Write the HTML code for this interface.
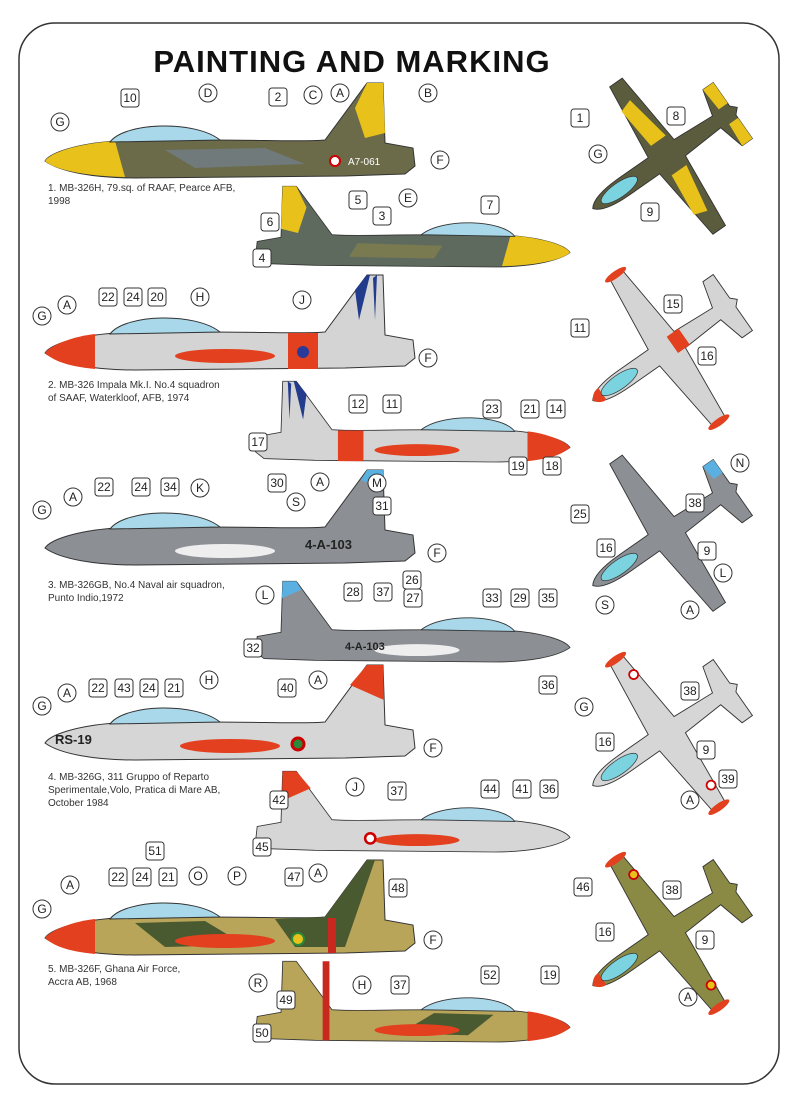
<!DOCTYPE html>
<html><head><meta charset="utf-8"><style>
body{margin:0;background:#fff;}
svg{display:block;font-family:"Liberation Sans",sans-serif;}
.c circle,.b rect{fill:#fff;stroke:#333;stroke-width:1;}
.c text,.b text{font-size:12px;text-anchor:middle;dominant-baseline:central;fill:#222;}
.cap{font-size:10px;fill:#333;}
</style></head><body>
<svg width="799" height="1100" viewBox="0 0 799 1100">
<defs>
<path id="side" d="M0,3 C5,-5 30,-14 70,-17 L160,-18 C220,-18 260,-16 280,-18 L322,-75 L338,-75 L340,-15 L368,-10 L370,8 L360,16 L300,18 L90,20 C50,20 15,14 0,3Z" stroke="#333" stroke-width="1"/>
<path id="can" d="M65,-16 C80,-36 150,-38 175,-18 Z" fill="#a8d8ea" stroke="#333" stroke-width="1"/>
<path id="nose" d="M0,3 C5,-5 30,-14 50,-16 L50,19 C20,16 8,10 0,3Z"/>
<path id="top" d="M-98,0 C-92,-8 -75,-11 -55,-11 L-15,-11 L-5,-100 L12,-100 L20,-11 L70,-8 L78,-38 L92,-38 L92,-6 L98,0 L92,6 L92,38 L78,38 L70,8 L20,11 L12,100 L-5,100 L-15,11 L-55,11 C-75,11 -92,8 -98,0Z" stroke="#333" stroke-width="1"/>
<g id="tcan"><ellipse cx="-62" cy="0" rx="24" ry="8" fill="#7cd3e0" stroke="#333" stroke-width=".8"/></g>
</defs>
<rect x="19" y="23" width="760" height="1061" rx="36" fill="#fff" stroke="#333" stroke-width="1.5"/>
<text x="352" y="72" font-size="31" font-weight="bold" text-anchor="middle" fill="#111" letter-spacing="1">PAINTING AND MARKING</text>

<!-- Row 1 -->
<g transform="translate(45,158)"><use href="#side" fill="#6b6b4a"/><path d="M0,3 C5,-5 30,-14 70,-17 L80,19 C40,18 10,12 0,3Z" fill="#e8c21a"/><path d="M310,-50 L322,-75 L338,-75 L340,-25 L320,-20Z" fill="#e8c21a"/><path d="M120,-8 L220,-10 L260,6 L150,10Z" fill="#707a7a"/><use href="#can"/><circle cx="290" cy="3" r="5" fill="#fff" stroke="#c00" stroke-width="2"/><text x="303" y="7" font-size="10" fill="#fff">A7-061</text></g>
<g transform="translate(570,250) scale(-0.85,0.85)"><use href="#side" fill="#5f6a5e"/><path d="M0,3 C5,-5 30,-14 70,-17 L80,19 C40,18 10,12 0,3Z" fill="#e8c21a"/><path d="M310,-50 L322,-75 L338,-75 L340,-25 L320,-20Z" fill="#e8c21a"/><use href="#can"/><path d="M150,-5 L250,-8 L260,8 L160,10Z" fill="#7a7a50"/></g>
<g transform="translate(665,158) rotate(-35) scale(0.9)"><use href="#top" fill="#5b5b3e"/><path d="M-10,-70 L5,-75 L15,-20 L-5,-20Z M-10,70 L5,75 L15,20 L-5,20Z" fill="#e8c21a"/><path d="M78,-38 L92,-38 L92,-10 L80,-10Z M78,38 L92,38 L92,10 L80,10Z" fill="#e8c21a"/><use href="#tcan"/></g>

<!-- Row 2 -->
<g transform="translate(45,350)"><use href="#side" fill="#d4d4d4"/><use href="#nose" fill="#e2401e"/><rect x="243" y="-17" width="30" height="36" fill="#e2401e"/><path d="M310,-60 L322,-75 L325,-75 L314,-30Z M328,-72 L332,-75 L330,-30Z" fill="#223b8c"/><use href="#can"/><ellipse cx="180" cy="6" rx="50" ry="7" fill="#e2401e"/><circle cx="258" cy="2" r="6" fill="#2a3a9a"/></g>
<g transform="translate(570,445) scale(-0.85,0.85)"><use href="#side" fill="#d4d4d4"/><use href="#nose" fill="#e2401e"/><rect x="243" y="-17" width="30" height="36" fill="#e2401e"/><path d="M310,-60 L322,-75 L325,-75 L314,-30Z M328,-72 L332,-75 L330,-30Z" fill="#223b8c"/><use href="#can"/><ellipse cx="180" cy="6" rx="50" ry="7" fill="#e2401e"/></g>
<g transform="translate(665,350) rotate(-35) scale(0.9)"><use href="#top" fill="#d4d4d4"/><rect x="10" y="-11" width="16" height="22" fill="#e2401e"/><path d="M-98,0 C-94,-6 -90,-8 -85,-8 L-85,8 C-90,8 -94,6 -98,0Z" fill="#e2401e"/><ellipse cx="3" cy="-100" rx="14" ry="4" fill="#e2401e"/><ellipse cx="3" cy="100" rx="14" ry="4" fill="#e2401e"/><use href="#tcan"/></g>

<!-- Row 3 -->
<g transform="translate(45,545)"><use href="#side" fill="#8c9095"/><path d="M316,-65 L322,-75 L338,-75 L339,-55Z" fill="#5ab0e0"/><use href="#can"/><ellipse cx="180" cy="6" rx="50" ry="7" fill="#eee"/><text x="260" y="4" font-size="13" font-weight="bold" fill="#222">4-A-103</text></g>
<g transform="translate(570,645) scale(-0.85,0.85)"><use href="#side" fill="#8c9095"/><path d="M316,-65 L322,-75 L338,-75 L339,-55Z" fill="#5ab0e0"/><use href="#can"/><ellipse cx="180" cy="6" rx="50" ry="7" fill="#eee"/></g>
<text x="345" y="650" font-size="11" font-weight="bold" fill="#222">4-A-103</text>
<g transform="translate(665,535) rotate(-35) scale(0.9)"><use href="#top" fill="#8c9095"/><path d="M78,-38 L92,-38 L92,-20 L80,-20Z" fill="#5ab0e0"/><use href="#tcan"/></g>

<!-- Row 4 -->
<g transform="translate(45,740)"><use href="#side" fill="#d6d6d6"/><path d="M305,-55 L322,-75 L338,-75 L339,-40Z" fill="#e2401e"/><use href="#can"/><ellipse cx="185" cy="6" rx="50" ry="7" fill="#e2401e"/><circle cx="253" cy="4" r="6" fill="#2a8a3a" stroke="#c00" stroke-width="3"/><text x="10" y="4" font-size="13" font-weight="bold" fill="#222">RS-19</text></g>
<g transform="translate(570,835) scale(-0.85,0.85)"><use href="#side" fill="#d6d6d6"/><path d="M305,-55 L322,-75 L338,-75 L339,-40Z" fill="#e2401e"/><use href="#can"/><ellipse cx="180" cy="6" rx="50" ry="7" fill="#e2401e"/><circle cx="235" cy="4" r="6" fill="#fff" stroke="#c00" stroke-width="3"/></g>
<g transform="translate(665,735) rotate(-35) scale(0.9)"><use href="#top" fill="#d6d6d6"/><ellipse cx="3" cy="-100" rx="14" ry="4" fill="#e2401e"/><ellipse cx="3" cy="100" rx="14" ry="4" fill="#e2401e"/><circle cx="10" cy="-75" r="5" fill="#fff" stroke="#c00" stroke-width="2"/><circle cx="10" cy="75" r="5" fill="#fff" stroke="#c00" stroke-width="2"/><use href="#tcan"/></g>

<!-- Row 5 -->
<g transform="translate(45,935)"><use href="#side" fill="#b9a55a"/><use href="#nose" fill="#e2401e"/><path d="M90,-12 L160,-14 L200,10 L120,12Z M230,-16 L280,-18 L322,-75 L330,-75 L300,12 L250,12Z" fill="#4a5a30"/><rect x="283" y="-17" width="8" height="35" fill="#c8281e"/><use href="#can"/><ellipse cx="180" cy="6" rx="50" ry="7" fill="#e2401e"/><circle cx="253" cy="4" r="6" fill="#e8c21a" stroke="#2a8a3a" stroke-width="2"/></g>
<g transform="translate(570,1025) scale(-0.85,0.85)"><use href="#side" fill="#b9a55a"/><use href="#nose" fill="#e2401e"/><path d="M90,-12 L160,-14 L200,10 L120,12Z" fill="#4a5a30"/><rect x="283" y="-75" width="8" height="93" fill="#c8281e"/><use href="#can"/><ellipse cx="180" cy="6" rx="50" ry="7" fill="#e2401e"/></g>
<g transform="translate(665,935) rotate(-35) scale(0.9)"><use href="#top" fill="#8a8a45"/><path d="M-98,0 C-94,-6 -90,-8 -85,-8 L-85,8 C-90,8 -94,6 -98,0Z" fill="#e2401e"/><ellipse cx="3" cy="-100" rx="14" ry="4" fill="#e2401e"/><ellipse cx="3" cy="100" rx="14" ry="4" fill="#e2401e"/><circle cx="10" cy="-75" r="5" fill="#e8c21a" stroke="#c00" stroke-width="2"/><circle cx="10" cy="75" r="5" fill="#e8c21a" stroke="#c00" stroke-width="2"/><use href="#tcan"/></g>

<!-- captions -->
<text class="cap" x="48" y="191">1. MB-326H, 79.sq. of RAAF, Pearce AFB,</text><text class="cap" x="48" y="204">1998</text>
<text class="cap" x="48" y="388">2. MB-326 Impala Mk.I. No.4 squadron</text><text class="cap" x="48" y="401">of SAAF, Waterkloof, AFB, 1974</text>
<text class="cap" x="48" y="588">3. MB-326GB, No.4 Naval air squadron,</text><text class="cap" x="48" y="601">Punto Indio,1972</text>
<text class="cap" x="48" y="780">4. MB-326G, 311 Gruppo of Reparto</text><text class="cap" x="48" y="793">Sperimentale,Volo, Pratica di Mare AB,</text><text class="cap" x="48" y="806">October 1984</text>
<text class="cap" x="48" y="972">5. MB-326F, Ghana Air Force,</text><text class="cap" x="48" y="985">Accra AB, 1968</text>

<!-- labels -->
<g class="c" transform="translate(60,122)"><circle r="9"/><text>G</text></g>
<g class="b" transform="translate(130,98)"><rect x="-9" y="-9" width="18" height="18" rx="3"/><text>10</text></g>
<g class="c" transform="translate(208,93)"><circle r="9"/><text>D</text></g>
<g class="b" transform="translate(278,97)"><rect x="-9" y="-9" width="18" height="18" rx="3"/><text>2</text></g>
<g class="c" transform="translate(313,95)"><circle r="9"/><text>C</text></g>
<g class="c" transform="translate(340,93)"><circle r="9"/><text>A</text></g>
<g class="c" transform="translate(428,93)"><circle r="9"/><text>B</text></g>
<g class="c" transform="translate(440,160)"><circle r="9"/><text>F</text></g>
<g class="c" transform="translate(408,198)"><circle r="9"/><text>E</text></g>
<g class="b" transform="translate(270,222)"><rect x="-9" y="-9" width="18" height="18" rx="3"/><text>6</text></g>
<g class="b" transform="translate(358,200)"><rect x="-9" y="-9" width="18" height="18" rx="3"/><text>5</text></g>
<g class="b" transform="translate(382,216)"><rect x="-9" y="-9" width="18" height="18" rx="3"/><text>3</text></g>
<g class="b" transform="translate(262,258)"><rect x="-9" y="-9" width="18" height="18" rx="3"/><text>4</text></g>
<g class="b" transform="translate(490,205)"><rect x="-9" y="-9" width="18" height="18" rx="3"/><text>7</text></g>
<g class="b" transform="translate(580,118)"><rect x="-9" y="-9" width="18" height="18" rx="3"/><text>1</text></g>
<g class="b" transform="translate(676,116)"><rect x="-9" y="-9" width="18" height="18" rx="3"/><text>8</text></g>
<g class="c" transform="translate(598,154)"><circle r="9"/><text>G</text></g>
<g class="b" transform="translate(650,212)"><rect x="-9" y="-9" width="18" height="18" rx="3"/><text>9</text></g>

<g class="c" transform="translate(42,316)"><circle r="9"/><text>G</text></g>
<g class="c" transform="translate(67,305)"><circle r="9"/><text>A</text></g>
<g class="b" transform="translate(108,297)"><rect x="-9" y="-9" width="18" height="18" rx="3"/><text>22</text></g>
<g class="b" transform="translate(133,297)"><rect x="-9" y="-9" width="18" height="18" rx="3"/><text>24</text></g>
<g class="b" transform="translate(157,297)"><rect x="-9" y="-9" width="18" height="18" rx="3"/><text>20</text></g>
<g class="c" transform="translate(200,297)"><circle r="9"/><text>H</text></g>
<g class="c" transform="translate(302,300)"><circle r="9"/><text>J</text></g>
<g class="c" transform="translate(428,358)"><circle r="9"/><text>F</text></g>
<g class="b" transform="translate(358,404)"><rect x="-9" y="-9" width="18" height="18" rx="3"/><text>12</text></g>
<g class="b" transform="translate(392,404)"><rect x="-9" y="-9" width="18" height="18" rx="3"/><text>11</text></g>
<g class="b" transform="translate(258,442)"><rect x="-9" y="-9" width="18" height="18" rx="3"/><text>17</text></g>
<g class="b" transform="translate(492,409)"><rect x="-9" y="-9" width="18" height="18" rx="3"/><text>23</text></g>
<g class="b" transform="translate(530,409)"><rect x="-9" y="-9" width="18" height="18" rx="3"/><text>21</text></g>
<g class="b" transform="translate(556,409)"><rect x="-9" y="-9" width="18" height="18" rx="3"/><text>14</text></g>
<g class="b" transform="translate(518,466)"><rect x="-9" y="-9" width="18" height="18" rx="3"/><text>19</text></g>
<g class="b" transform="translate(552,466)"><rect x="-9" y="-9" width="18" height="18" rx="3"/><text>18</text></g>
<g class="b" transform="translate(580,328)"><rect x="-9" y="-9" width="18" height="18" rx="3"/><text>11</text></g>
<g class="b" transform="translate(673,304)"><rect x="-9" y="-9" width="18" height="18" rx="3"/><text>15</text></g>
<g class="b" transform="translate(707,356)"><rect x="-9" y="-9" width="18" height="18" rx="3"/><text>16</text></g>

<g class="c" transform="translate(42,510)"><circle r="9"/><text>G</text></g>
<g class="c" transform="translate(73,497)"><circle r="9"/><text>A</text></g>
<g class="b" transform="translate(104,487)"><rect x="-9" y="-9" width="18" height="18" rx="3"/><text>22</text></g>
<g class="b" transform="translate(141,487)"><rect x="-9" y="-9" width="18" height="18" rx="3"/><text>24</text></g>
<g class="b" transform="translate(170,487)"><rect x="-9" y="-9" width="18" height="18" rx="3"/><text>34</text></g>
<g class="c" transform="translate(200,488)"><circle r="9"/><text>K</text></g>
<g class="b" transform="translate(277,483)"><rect x="-9" y="-9" width="18" height="18" rx="3"/><text>30</text></g>
<g class="c" transform="translate(320,482)"><circle r="9"/><text>A</text></g>
<g class="c" transform="translate(377,483)"><circle r="9"/><text>M</text></g>
<g class="c" transform="translate(296,502)"><circle r="9"/><text>S</text></g>
<g class="b" transform="translate(382,506)"><rect x="-9" y="-9" width="18" height="18" rx="3"/><text>31</text></g>
<g class="c" transform="translate(437,553)"><circle r="9"/><text>F</text></g>
<g class="b" transform="translate(412,580)"><rect x="-9" y="-9" width="18" height="18" rx="3"/><text>26</text></g>
<g class="c" transform="translate(265,595)"><circle r="9"/><text>L</text></g>
<g class="b" transform="translate(353,592)"><rect x="-9" y="-9" width="18" height="18" rx="3"/><text>28</text></g>
<g class="b" transform="translate(383,592)"><rect x="-9" y="-9" width="18" height="18" rx="3"/><text>37</text></g>
<g class="b" transform="translate(413,598)"><rect x="-9" y="-9" width="18" height="18" rx="3"/><text>27</text></g>
<g class="b" transform="translate(492,598)"><rect x="-9" y="-9" width="18" height="18" rx="3"/><text>33</text></g>
<g class="b" transform="translate(520,598)"><rect x="-9" y="-9" width="18" height="18" rx="3"/><text>29</text></g>
<g class="b" transform="translate(548,598)"><rect x="-9" y="-9" width="18" height="18" rx="3"/><text>35</text></g>
<g class="b" transform="translate(253,648)"><rect x="-9" y="-9" width="18" height="18" rx="3"/><text>32</text></g>
<g class="b" transform="translate(548,685)"><rect x="-9" y="-9" width="18" height="18" rx="3"/><text>36</text></g>
<g class="c" transform="translate(605,605)"><circle r="9"/><text>S</text></g>
<g class="c" transform="translate(690,610)"><circle r="9"/><text>A</text></g>
<g class="c" transform="translate(740,463)"><circle r="9"/><text>N</text></g>
<g class="b" transform="translate(580,514)"><rect x="-9" y="-9" width="18" height="18" rx="3"/><text>25</text></g>
<g class="b" transform="translate(695,503)"><rect x="-9" y="-9" width="18" height="18" rx="3"/><text>38</text></g>
<g class="b" transform="translate(606,548)"><rect x="-9" y="-9" width="18" height="18" rx="3"/><text>16</text></g>
<g class="b" transform="translate(707,551)"><rect x="-9" y="-9" width="18" height="18" rx="3"/><text>9</text></g>
<g class="c" transform="translate(723,573)"><circle r="9"/><text>L</text></g>

<g class="c" transform="translate(42,706)"><circle r="9"/><text>G</text></g>
<g class="c" transform="translate(67,693)"><circle r="9"/><text>A</text></g>
<g class="b" transform="translate(98,688)"><rect x="-9" y="-9" width="18" height="18" rx="3"/><text>22</text></g>
<g class="b" transform="translate(124,688)"><rect x="-9" y="-9" width="18" height="18" rx="3"/><text>43</text></g>
<g class="b" transform="translate(149,688)"><rect x="-9" y="-9" width="18" height="18" rx="3"/><text>24</text></g>
<g class="b" transform="translate(174,688)"><rect x="-9" y="-9" width="18" height="18" rx="3"/><text>21</text></g>
<g class="c" transform="translate(209,680)"><circle r="9"/><text>H</text></g>
<g class="b" transform="translate(287,688)"><rect x="-9" y="-9" width="18" height="18" rx="3"/><text>40</text></g>
<g class="c" transform="translate(318,680)"><circle r="9"/><text>A</text></g>
<g class="c" transform="translate(433,748)"><circle r="9"/><text>F</text></g>
<g class="c" transform="translate(355,787)"><circle r="9"/><text>J</text></g>
<g class="b" transform="translate(397,791)"><rect x="-9" y="-9" width="18" height="18" rx="3"/><text>37</text></g>
<g class="b" transform="translate(279,800)"><rect x="-9" y="-9" width="18" height="18" rx="3"/><text>42</text></g>
<g class="b" transform="translate(262,847)"><rect x="-9" y="-9" width="18" height="18" rx="3"/><text>45</text></g>
<g class="b" transform="translate(490,789)"><rect x="-9" y="-9" width="18" height="18" rx="3"/><text>44</text></g>
<g class="b" transform="translate(522,789)"><rect x="-9" y="-9" width="18" height="18" rx="3"/><text>41</text></g>
<g class="b" transform="translate(549,789)"><rect x="-9" y="-9" width="18" height="18" rx="3"/><text>36</text></g>
<g class="c" transform="translate(584,707)"><circle r="9"/><text>G</text></g>
<g class="b" transform="translate(690,691)"><rect x="-9" y="-9" width="18" height="18" rx="3"/><text>38</text></g>
<g class="b" transform="translate(605,742)"><rect x="-9" y="-9" width="18" height="18" rx="3"/><text>16</text></g>
<g class="b" transform="translate(706,750)"><rect x="-9" y="-9" width="18" height="18" rx="3"/><text>9</text></g>
<g class="b" transform="translate(728,779)"><rect x="-9" y="-9" width="18" height="18" rx="3"/><text>39</text></g>
<g class="c" transform="translate(690,800)"><circle r="9"/><text>A</text></g>

<g class="c" transform="translate(42,909)"><circle r="9"/><text>G</text></g>
<g class="c" transform="translate(70,885)"><circle r="9"/><text>A</text></g>
<g class="b" transform="translate(118,877)"><rect x="-9" y="-9" width="18" height="18" rx="3"/><text>22</text></g>
<g class="b" transform="translate(142,877)"><rect x="-9" y="-9" width="18" height="18" rx="3"/><text>24</text></g>
<g class="b" transform="translate(168,877)"><rect x="-9" y="-9" width="18" height="18" rx="3"/><text>21</text></g>
<g class="b" transform="translate(155,851)"><rect x="-9" y="-9" width="18" height="18" rx="3"/><text>51</text></g>
<g class="c" transform="translate(198,876)"><circle r="9"/><text>O</text></g>
<g class="c" transform="translate(237,876)"><circle r="9"/><text>P</text></g>
<g class="b" transform="translate(294,877)"><rect x="-9" y="-9" width="18" height="18" rx="3"/><text>47</text></g>
<g class="c" transform="translate(318,873)"><circle r="9"/><text>A</text></g>
<g class="b" transform="translate(398,888)"><rect x="-9" y="-9" width="18" height="18" rx="3"/><text>48</text></g>
<g class="c" transform="translate(433,940)"><circle r="9"/><text>F</text></g>
<g class="c" transform="translate(258,983)"><circle r="9"/><text>R</text></g>
<g class="c" transform="translate(362,985)"><circle r="9"/><text>H</text></g>
<g class="b" transform="translate(400,985)"><rect x="-9" y="-9" width="18" height="18" rx="3"/><text>37</text></g>
<g class="b" transform="translate(286,1000)"><rect x="-9" y="-9" width="18" height="18" rx="3"/><text>49</text></g>
<g class="b" transform="translate(262,1033)"><rect x="-9" y="-9" width="18" height="18" rx="3"/><text>50</text></g>
<g class="b" transform="translate(490,975)"><rect x="-9" y="-9" width="18" height="18" rx="3"/><text>52</text></g>
<g class="b" transform="translate(550,975)"><rect x="-9" y="-9" width="18" height="18" rx="3"/><text>19</text></g>
<g class="b" transform="translate(583,887)"><rect x="-9" y="-9" width="18" height="18" rx="3"/><text>46</text></g>
<g class="b" transform="translate(672,890)"><rect x="-9" y="-9" width="18" height="18" rx="3"/><text>38</text></g>
<g class="b" transform="translate(605,932)"><rect x="-9" y="-9" width="18" height="18" rx="3"/><text>16</text></g>
<g class="b" transform="translate(705,940)"><rect x="-9" y="-9" width="18" height="18" rx="3"/><text>9</text></g>
<g class="c" transform="translate(688,997)"><circle r="9"/><text>A</text></g>
</svg>
</body></html>
